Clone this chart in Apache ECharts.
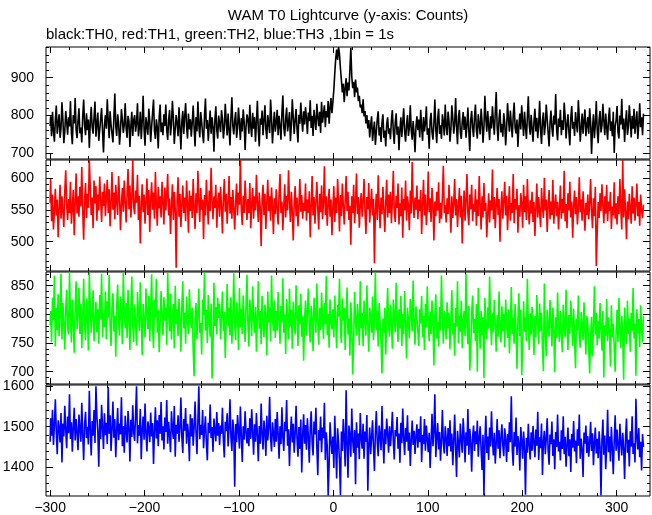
<!DOCTYPE html>
<html><head><meta charset="utf-8">
<script src="https://cdn.jsdelivr.net/npm/echarts@6/dist/echarts.min.js"></script>
<style>html,body{margin:0;padding:0;background:#fff}#c{width:652px;height:515px}</style>
</head><body><div id="c"></div>
<script>
const titleText = 'WAM T0 Lightcurve (y-axis: Counts)';
const subText = 'black:TH0, red:TH1, green:TH2, blue:TH3 ,1bin = 1s';
const tStart = -300; // first bin time (s), 1 bin = 1 s
const xTicks = [-300, -200, -100, 0, 100, 200, 300];

const th0 = [
772,798,745,810,760,731,788,826,752,779,803,741,766,835,790,727,758,812,784,749,795,771,838,756,724,801,779,846,762,740,
786,819,753,768,729,797,842,775,748,806,761,789,714,780,823,769,752,795,837,744,778,808,733,762,791,820,758,702,774,801,
765,843,787,740,811,776,751,729,794,858,772,746,803,781,723,760,817,789,754,776,832,766,741,799,785,717,772,810,746,788,
801,757,779,832,745,768,810,737,784,852,763,720,795,774,749,818,786,730,771,807,842,759,738,790,768,713,796,829,756,781,
748,803,772,829,761,735,788,815,747,776,839,793,725,764,801,779,745,822,768,710,784,812,751,797,833,772,739,805,763,790,
744,781,826,767,718,796,758,837,775,742,809,782,751,727,799,845,765,788,733,776,813,752,795,770,704,787,824,761,739,800,
778,756,814,792,739,768,831,784,747,805,762,721,795,848,773,750,787,809,741,766,821,779,735,793,758,816,784,709,770,803,
789,752,828,771,743,807,765,796,731,783,839,760,718,792,776,813,748,787,827,763,738,801,779,753,842,794,726,771,810,757,
783,815,748,799,772,736,806,853,768,745,791,821,758,780,809,732,774,843,796,751,787,817,765,729,802,778,834,790,757,811,
776,822,794,751,808,785,840,767,799,746,815,788,762,831,797,772,810,754,836,781,803,827,769,812,795,838,778,820,846,806,
836,868,912,951,974,947,981,962,925,893,861,884,835,872,898,851,887,866,921,979,903,872,889,848,895,861,874,838,852,821,
829,806,843,798,812,779,801,766,788,742,775,798,733,761,784,722,756,790,811,747,769,730,782,803,741,760,718,777,795,752,
766,737,789,814,758,725,780,806,749,771,708,762,795,743,782,819,757,731,774,801,746,768,827,760,736,785,752,703,771,798,
761,789,742,815,770,733,796,758,781,824,749,766,712,788,807,755,736,779,842,764,727,792,818,751,774,738,803,782,747,829,
772,748,810,785,731,763,827,794,752,779,846,768,724,797,815,756,738,783,809,762,797,741,774,821,759,706,788,812,767,743,
795,829,761,739,803,776,750,818,784,728,769,852,791,757,812,773,735,798,766,824,783,749,807,862,769,733,791,816,755,778,
744,806,782,721,765,833,790,757,813,776,742,799,834,768,753,789,717,772,805,763,827,784,746,810,771,738,796,851,775,749,
802,766,731,784,818,758,794,740,776,839,760,725,787,808,748,773,829,791,754,718,780,813,767,744,800,776,857,761,734,792,
770,815,748,787,762,834,797,739,776,803,757,721,792,825,765,783,746,809,778,755,841,792,731,768,805,752,787,816,745,774,
796,752,819,781,698,766,803,740,777,838,762,727,789,812,755,773,831,786,748,805,769,736,792,821,759,784,745,810,701,771,
788,825,756,739,800,776,844,763,792,730,781,814,749,770,827,787,742,799,765,818,752,783,811,738,776,832,769,795,748,805
];

const th1 = [
561,598,532,574,519,548,583,541,566,507,552,589,536,571,547,523,579,612,558,534,567,545,594,528,553,581,510,562,607,544,
571,539,586,555,617,548,503,566,592,537,575,553,629,584,542,569,521,596,560,587,533,574,549,602,565,531,578,556,591,540,
568,597,545,582,524,561,609,550,577,535,589,564,542,603,571,518,558,584,547,596,562,530,575,614,551,588,538,566,629,555,
543,580,561,605,534,572,497,556,590,546,574,528,563,599,542,581,515,566,593,550,577,536,609,558,525,586,552,571,538,594,
562,527,585,549,573,606,541,568,512,556,590,534,578,551,459,566,601,539,575,523,557,588,545,569,532,596,561,514,580,548,
572,537,598,554,520,576,545,611,563,531,584,550,566,504,573,541,597,559,527,580,548,616,565,535,571,553,589,522,560,577,
539,586,555,513,569,598,547,575,528,562,603,544,570,536,581,552,519,564,591,541,577,558,630,549,526,572,545,596,563,534,
567,545,592,521,558,584,536,571,549,605,560,531,577,554,493,566,589,542,575,520,561,597,548,571,533,585,556,512,568,543,
582,551,527,574,606,545,563,518,557,590,538,572,549,612,565,531,578,546,502,560,587,540,569,524,555,598,547,573,536,561,
548,591,533,566,545,579,507,556,603,541,570,528,562,594,551,519,575,546,588,535,560,618,542,571,525,557,583,539,566,510,
554,587,531,569,545,598,562,516,573,540,591,557,527,564,603,548,578,534,556,495,571,545,589,529,561,607,543,570,522,558,
576,539,563,598,547,512,570,551,592,530,559,583,541,567,466,548,575,534,604,556,521,569,543,586,550,515,562,597,538,574,
545,578,529,564,611,548,531,572,553,591,527,560,540,585,506,567,549,596,533,571,556,518,580,544,625,562,537,569,550,588,
535,566,548,581,512,559,597,541,574,526,553,610,546,568,531,584,557,502,563,540,578,549,593,529,561,536,572,619,545,557,
530,568,543,589,552,514,571,537,560,598,541,567,523,556,584,538,572,497,549,580,533,563,606,545,526,574,551,589,532,559,
547,582,525,566,540,603,557,519,571,538,592,548,561,507,543,576,530,565,549,613,535,570,521,558,584,542,567,500,551,579,
536,563,594,541,572,518,555,587,533,561,545,606,529,567,550,583,514,557,539,576,560,522,589,546,571,534,598,552,527,565,
544,578,531,562,509,553,591,538,570,546,523,584,556,537,600,549,566,515,558,581,535,563,542,597,528,557,574,540,562,519,
553,588,536,567,545,611,532,559,521,576,549,594,538,563,506,555,580,543,570,527,552,601,546,566,533,579,550,517,561,542,
574,535,560,598,547,521,568,540,586,462,515,562,537,576,548,590,556,529,571,544,589,532,563,548,578,520,555,541,593,536,
560,527,571,543,598,551,519,628,538,582,547,504,563,535,575,552,528,587,544,569,533,558,591,540,562,525,574,549,537,558
];

const th2 = [
781,806,752,829,790,868,744,812,773,835,762,797,871,756,820,785,739,808,843,777,765,874,798,751,826,789,733,810,858,774,
802,847,766,819,741,793,862,781,755,828,800,737,873,815,768,797,842,753,786,822,769,809,749,834,791,871,760,803,778,840,
757,823,794,869,780,745,812,837,770,798,726,815,852,788,763,831,799,748,873,806,776,820,759,843,790,738,811,866,783,752,
817,784,746,839,803,771,856,792,729,818,787,760,845,801,774,832,753,809,870,779,741,826,795,862,768,808,734,785,841,797,
764,830,789,812,747,873,801,770,836,756,795,818,741,850,783,809,762,827,794,735,814,858,776,803,749,831,789,766,844,798,
776,812,739,692,791,820,757,803,845,768,785,730,826,799,873,772,808,750,834,786,761,819,688,742,855,780,813,765,829,794,
818,757,796,840,771,805,724,788,853,779,812,763,830,749,794,872,785,755,821,801,738,846,777,810,766,833,790,752,815,869,
783,744,826,801,762,849,792,768,813,735,797,858,775,806,748,832,781,760,817,797,729,840,786,812,753,868,795,771,824,759,
806,772,839,791,749,815,786,863,768,800,731,827,794,757,845,779,808,740,822,787,765,851,798,745,816,783,836,761,797,719,
790,824,763,807,845,778,751,815,792,736,829,801,768,854,785,747,811,773,838,796,757,820,783,867,764,801,742,826,789,774,
809,760,833,784,741,817,796,862,772,750,828,789,811,738,802,847,765,793,728,821,780,695,754,839,787,763,818,795,746,858,
776,803,745,824,790,763,851,781,735,812,797,768,831,755,789,873,772,806,744,820,785,752,697,793,767,811,730,798,846,779,
761,817,783,740,826,798,769,855,787,752,809,776,832,745,801,766,841,784,723,812,790,758,827,803,771,859,782,747,814,793,
771,745,809,784,832,760,797,738,818,777,849,790,753,805,766,824,781,711,799,835,758,787,744,813,772,868,795,749,806,783,
757,821,776,803,739,794,842,765,785,728,811,779,858,750,797,770,824,741,789,806,762,871,783,748,815,702,736,800,833,767,
792,753,818,700,846,784,740,806,764,795,689,829,781,757,812,775,866,790,746,803,769,825,782,735,799,761,840,778,751,814,
771,801,743,826,785,759,809,732,779,848,766,794,749,818,773,705,790,837,762,808,694,744,823,770,796,753,862,784,738,802,
765,813,778,729,797,760,834,786,748,819,771,803,741,701,854,767,727,808,780,761,825,791,744,812,773,699,795,759,838,776,
752,806,769,734,817,781,760,843,775,738,799,766,824,787,745,810,757,706,793,772,833,761,742,804,779,755,821,768,730,797,
784,741,697,763,796,727,778,849,765,803,746,788,758,820,774,737,806,690,781,762,827,753,795,771,709,816,760,783,744,700,
769,808,752,829,775,741,797,763,686,812,780,748,824,766,793,735,803,771,846,758,784,693,809,767,792,743,816,775,751,798
];

const th3 = [
1463,1521,1478,1542,1455,1503,1568,1489,1432,1516,1497,1461,1534,1412,1508,1476,1552,1493,1447,1525,1484,1580,1470,1511,1438,1499,1547,1466,1519,1487,
1442,1530,1495,1463,1559,1481,1418,1506,1537,1472,1500,1456,1589,1492,1429,1514,1478,1541,1460,1600,1526,1487,1401,1519,1469,1554,1498,1445,1533,1479,
1510,1457,1598,1483,1528,1440,1495,1562,1473,1519,1425,1490,1546,1467,1508,1481,1573,1452,1502,1436,1527,1488,1461,1539,1496,1414,1517,1475,1553,1486,
1465,1531,1600,1459,1504,1478,1544,1420,1493,1525,1468,1557,1485,1439,1513,1497,1462,1535,1476,1509,1408,1490,1548,1471,1516,1452,1529,1483,1561,1466,
1501,1444,1523,1487,1566,1458,1512,1479,1437,1538,1494,1470,1551,1426,1505,1482,1528,1463,1497,1572,1474,1435,1519,1490,1546,1458,1507,1483,1415,1531,
1476,1521,1453,1498,1562,1487,1432,1514,1600,1469,1505,1480,1541,1447,1493,1526,1460,1417,1510,1484,1555,1472,1499,1438,1520,1491,1464,1536,1478,1509,
1455,1503,1482,1547,1466,1424,1512,1489,1533,1451,1496,1568,1474,1440,1518,1485,1352,1507,1462,1529,1491,1446,1550,1477,1413,1501,1468,1538,1486,1459,
1497,1452,1521,1470,1543,1488,1431,1506,1463,1534,1479,1415,1502,1458,1557,1481,1444,1515,1490,1428,1527,1466,1498,1574,1472,1439,1511,1485,1450,1519,
1463,1536,1482,1421,1501,1457,1548,1475,1440,1512,1489,1566,1453,1494,1403,1478,1525,1461,1507,1436,1484,1552,1470,1426,1499,1445,1518,1387,1479,1531,
1458,1504,1443,1521,1476,1411,1495,1538,1462,1429,1513,1481,1547,1449,1380,1492,1466,1525,1437,1498,1472,1559,1418,1486,1453,1330,1407,1511,1464,1433,
1476,1398,1527,1449,1372,1496,1461,1415,1331,1488,1440,1519,1468,1402,1590,1457,1374,1503,1479,1426,1545,1466,1435,1492,1358,1511,1448,1483,1420,1534,
1470,1446,1507,1421,1488,1463,1529,1342,1455,1498,1432,1474,1516,1450,1391,1485,1539,1461,1427,1503,1478,1442,1551,1468,1409,1494,1457,1520,1483,1436,
1501,1452,1488,1537,1465,1419,1492,1476,1524,1446,1483,1411,1510,1459,1545,1472,1430,1497,1463,1528,1441,1486,1403,1469,1515,1455,1490,1433,1477,1506,
1448,1495,1462,1526,1413,1480,1457,1519,1441,1503,1470,1437,1485,1398,1464,1532,1452,1490,1580,1425,1473,1509,1444,1487,1416,1466,1541,1458,1434,1501,
1471,1428,1497,1452,1516,1439,1483,1405,1465,1530,1447,1376,1490,1459,1424,1508,1468,1436,1521,1478,1412,1486,1453,1544,1431,1495,1462,1389,1474,1503,
1440,1489,1457,1515,1426,1472,1501,1444,1393,1480,1331,1462,1527,1435,1476,1418,1498,1451,1538,1467,1429,1485,1409,1460,1519,1446,1491,1422,1473,1506,
1454,1427,1496,1468,1413,1482,1438,1511,1462,1575,1445,1404,1487,1451,1523,1430,1477,1459,1392,1499,1466,1421,1488,1448,1332,1473,1436,1507,1455,1419,
1486,1441,1502,1460,1425,1493,1453,1537,1418,1474,1447,1508,1381,1464,1490,1432,1470,1521,1443,1406,1481,1457,1513,1428,1469,1395,1487,1450,1530,1439,
1463,1417,1491,1445,1526,1432,1475,1401,1456,1498,1427,1469,1388,1482,1448,1514,1439,1466,1410,1494,1453,1530,1421,1471,1443,1376,1486,1458,1503,1435,
1477,1426,1459,1512,1440,1484,1405,1461,1498,1434,1470,1422,1489,1449,1330,1466,1518,1431,1478,1395,1452,1542,1437,1476,1414,1500,1446,1383,1465,1528,
1441,1493,1455,1416,1507,1462,1429,1485,1448,1371,1474,1520,1436,1468,1402,1489,1451,1526,1433,1459,1412,1569,1472,1444,1497,1425,1463,1392,1482,1450
];

const seriesNames = ['TH0', 'TH1', 'TH2', 'TH3'];
const seriesValues = [th0, th1, th2, th3];
const seriesColors = ['#000000', '#ff0000', '#00ff00', '#0000ff'];
const yMajorTicks = [[700, 800, 900], [500, 550, 600], [700, 750, 800, 850], [1400, 1500, 1600]];

// layout
const yRanges = [[685, 981], [454, 628], [678.5, 874], [1329, 1603]];
const yMinorStep = [20, 10, 10, 20];
const panels = [[47, 112], [160, 111], [272, 112], [385, 111]];
const xMin = -304.4, xMax = 335.4, xMinorStep = 20;
const FONT = 'Liberation Sans, Arial, Helvetica, sans-serif';

function stepTicks(lo, hi, step) {
  const out = [];
  for (let v = Math.ceil(lo / step) * step; v <= hi; v += step) out.push(v);
  return out;
}
const fmt = v => (v < 0 ? '\u2212' + (-v) : String(v));

const grids = [], xAxes = [], yAxes = [], series = [];
const xMinor = stepTicks(xMin, xMax, xMinorStep);

panels.forEach((p, g) => {
  grids.push({ left: 46, right: 2, top: p[0], height: p[1], show: true, borderColor: '#000', borderWidth: 1,
    backgroundColor: 'transparent', containLabel: false, outerBoundsMode: 'none' });
  const last = g === panels.length - 1;
  const mkX = (pos, ticks, len, withLabels) => ({
    type: 'value', gridIndex: g, position: pos, min: xMin, max: xMax,
    axisLine: { show: false, onZero: false }, splitLine: { show: false },
    axisTick: { show: true, inside: true, length: len, customValues: ticks, lineStyle: { color: '#000', width: 1 } },
    axisLabel: withLabels ? { show: true, customValues: xTicks, formatter: fmt, color: '#000', fontSize: 14,
      fontFamily: FONT, margin: 5 } : { show: false }
  });
  xAxes.push(mkX('bottom', xTicks, 6, last), mkX('bottom', xMinor, 3, false),
             mkX('top', xTicks, 6, false), mkX('top', xMinor, 3, false));
  const yr = yRanges[g];
  const yMinor = stepTicks(yr[0], yr[1], yMinorStep[g]);
  const mkY = (pos, ticks, len, withLabels) => ({
    type: 'value', gridIndex: g, position: pos, min: yr[0], max: yr[1],
    axisLine: { show: false, onZero: false }, splitLine: { show: false },
    axisTick: { show: true, inside: true, length: len, customValues: ticks, lineStyle: { color: '#000', width: 1 } },
    axisLabel: withLabels ? { show: true, customValues: yMajorTicks[g], formatter: fmt, color: '#000', fontSize: 14,
      fontFamily: FONT, margin: 12 } : { show: false }
  });
  yAxes.push(mkY('left', yMajorTicks[g], 7, true), mkY('left', yMinor, 3, false),
             mkY('right', yMajorTicks[g], 7, false), mkY('right', yMinor, 3, false));
  series.push({
    name: seriesNames[g], type: 'line', xAxisIndex: g * 4, yAxisIndex: g * 4,
    data: seriesValues[g].map((v, i) => [tStart + i, v]),
    step: 'middle', symbol: 'none', showSymbol: false, silent: true,
    lineStyle: { color: seriesColors[g], width: 1.6 }, itemStyle: { color: seriesColors[g] },
    clip: true, animation: false
  });
});

const chart = echarts.init(document.getElementById('c'), null, { renderer: 'canvas' });
chart.setOption({
  backgroundColor: '#ffffff',
  animation: false,
  title: [
    { text: titleText, left: 348, top: 8, textAlign: 'center', padding: 0,
      textStyle: { fontSize: 15, fontWeight: 'normal', color: '#000', fontFamily: FONT } },
    { text: subText, left: 46, top: 27, padding: 0,
      textStyle: { fontSize: 15, fontWeight: 'normal', color: '#000', fontFamily: FONT } }
  ],
  grid: grids, xAxis: xAxes, yAxis: yAxes, series: series
});
</script>
</body></html>
